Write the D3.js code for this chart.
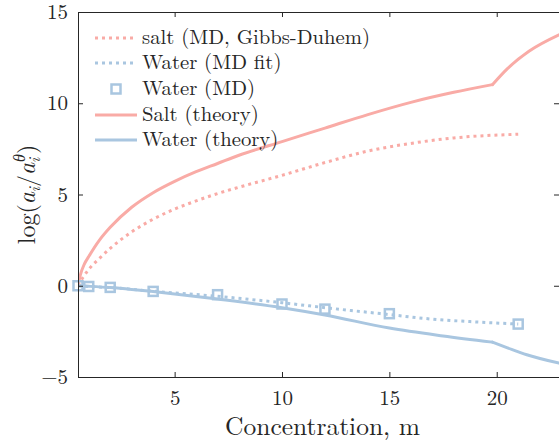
<!DOCTYPE html>
<html><head><meta charset="utf-8">
<script src="https://cdn.jsdelivr.net/npm/d3@7"></script>
<style>body{margin:0;background:#fff}svg{display:block}</style>
</head><body><svg id="c" width="559" height="444"></svg>
<script>
const saltTheoryX = [0.5,0.6,0.8,1.0,1.5,2,3,4,5,6,7,8,10,12,14,16,18,19.8,20.5,21.5,22.9];
const saltTheoryY = [0,0.55,1.2,1.6,2.5,3.2,4.3,5.1,5.72,6.25,6.7,7.15,7.9,8.64,9.38,10.05,10.6,11.02,11.9,12.85,13.75];
const saltMDX = [0.5,0.7,1,1.5,2,3,4,5,6,7,8,10,12,14,16,18,21];
const saltMDY = [0,0.4,0.9,1.5,2.05,2.95,3.65,4.2,4.65,5.05,5.4,6.05,6.75,7.38,7.8,8.1,8.3];
const waterTheoryX = [0.5,1,2,3,4,5,7,10,12,15,17.5,19.8,20.5,21.4,22.9];
const waterTheoryY = [0,-0.03,-0.1,-0.2,-0.32,-0.45,-0.73,-1.2,-1.6,-2.32,-2.75,-3.09,-3.4,-3.78,-4.24];
const waterFitX = [0.5,1,2,4,7,10,12,15,17,19,21];
const waterFitY = [0,-0.04,-0.1,-0.3,-0.58,-0.93,-1.2,-1.58,-1.83,-1.98,-2.1];
const waterMDX = [0.5,1,2,4,7,10,12,15,21];
const waterMDY = [0,-0.04,-0.09,-0.31,-0.49,-1.0,-1.28,-1.53,-2.1];
const theoryKinkX = 19.8;
const xTicks = [5,10,15,20];
const yTicks = [-5,0,5,10,15];
const legendLabels = ["salt (MD, Gibbs-Duhem)","Water (MD fit)","Water (MD)","Salt (theory)","Water (theory)"];

const FF = '"Latin Modern Roman","CMU Serif","Liberation Serif",serif';
const pink = "#f9aba6", blue = "#a9c6e0", axc = "#262626";
const L=78,R=559,T=12,B=377;
const svg = d3.select("#c");
const x = d3.scaleLinear().domain([0.5,22.9]).range([L,R]);
const y = d3.scaleLinear().domain([-5,15]).range([B,T]);

svg.append("defs").append("clipPath").attr("id","cp").append("rect").attr("x",L).attr("y",T).attr("width",R-L).attr("height",B-T);
const g = svg.append("g").attr("clip-path","url(#cp)");
const line = d3.line().x(d=>x(d[0])).y(d=>y(d[1])).curve(d3.curveMonotoneX);
const zip=(a,b)=>a.map((v,i)=>[v,b[i]]);
function kinked(pts){ return [pts.filter(p=>p[0]<=theoryKinkX), pts.filter(p=>p[0]>=theoryKinkX)]; }

kinked(zip(saltTheoryX,saltTheoryY)).forEach(seg=>
  g.append("path").attr("d",line(seg)).attr("fill","none").attr("stroke",pink).attr("stroke-width",3).attr("stroke-linejoin","round").attr("stroke-linecap","round"));
g.append("path").attr("d",line(zip(saltMDX,saltMDY))).attr("fill","none").attr("stroke",pink).attr("stroke-width",3).attr("stroke-dasharray","3,4");
kinked(zip(waterTheoryX,waterTheoryY)).forEach(seg=>
  g.append("path").attr("d",line(seg)).attr("fill","none").attr("stroke",blue).attr("stroke-width",3).attr("stroke-linecap","round"));
g.append("path").attr("d",line(zip(waterFitX,waterFitY))).attr("fill","none").attr("stroke",blue).attr("stroke-width",3).attr("stroke-dasharray","3,4");
svg.append("g").selectAll("rect.m").data(zip(waterMDX,waterMDY)).join("rect").attr("class","m")
  .attr("x",d=>x(d[0])-4.5).attr("y",d=>y(d[1])-4.5).attr("width",9).attr("height",9)
  .attr("fill","none").attr("stroke",blue).attr("stroke-width",2.5);

function styleText(s,size){ s.style("font-family",FF).style("font-size",size+"px").style("fill",axc); }

// axes
const fs=21;
svg.append("g").attr("transform",`translate(0,${B})`).call(d3.axisBottom(x).tickValues(xTicks).tickSizeInner(-5).tickSizeOuter(0).tickPadding(13))
  .call(s=>{s.select(".domain").remove();s.selectAll("line").attr("stroke",axc);s.selectAll("text").call(styleText,fs);});
svg.append("g").attr("transform",`translate(0,${T})`).call(d3.axisTop(x).tickValues(xTicks).tickSizeInner(-5).tickSizeOuter(0).tickFormat(""))
  .call(s=>{s.select(".domain").remove();s.selectAll("line").attr("stroke",axc);});
svg.append("g").attr("transform",`translate(${L},0)`).call(d3.axisLeft(y).tickValues(yTicks).tickSizeInner(-5).tickSizeOuter(0).tickPadding(10))
  .call(s=>{s.select(".domain").remove();s.selectAll("line").attr("stroke",axc);s.selectAll("text").call(styleText,fs);});
svg.append("g").attr("transform",`translate(${R},0)`).call(d3.axisRight(y).tickValues(yTicks).tickSizeInner(-5).tickSizeOuter(0).tickFormat(""))
  .call(s=>{s.select(".domain").remove();s.selectAll("line").attr("stroke",axc);});
svg.append("rect").attr("x",L+0.5).attr("y",T+0.5).attr("width",R-L).attr("height",B-T).attr("fill","none").attr("stroke",axc).attr("stroke-width",1);

function fit(sel,target){ const w=sel.node().getComputedTextLength(); const f=parseFloat(sel.style("font-size")); sel.style("font-size",(f*target/w)+"px"); return f*target/w; }

// axis labels
const xl = svg.append("text").attr("x",(L+R)/2+4).attr("y",435).attr("text-anchor","middle").call(styleText,24).text("Concentration, m");
fit(xl,195);
const yl = svg.append("text").attr("transform",`translate(35,${(T+B)/2}) rotate(-90)`).attr("text-anchor","middle").call(styleText,24);
yl.append("tspan").text("log(");
yl.append("tspan").style("font-style","italic").text("a");
yl.append("tspan").style("font-style","italic").style("font-size","16px").attr("dy",5).text("i");
yl.append("tspan").attr("dy",-5).text("/");
yl.append("tspan").style("font-style","italic").text("a");
yl.append("tspan").style("font-style","italic").style("font-size","16px").attr("dy",5).text("i");
yl.append("tspan").style("font-style","italic").style("font-size","16px").attr("dx",-4).attr("dy",-15).text("θ");
yl.append("tspan").attr("dy",10).text(")");

// legend
const rows=[38,63,89,115,140];
const lg = svg.append("g");
const styles=[{c:pink,d:"3,4",t:"line"},{c:blue,d:"3,4",t:"line"},{c:blue,t:"mark"},{c:pink,t:"line"},{c:blue,t:"line"}];
let legSize=20;
styles.forEach((s,i)=>{
  if(s.t==="line") lg.append("line").attr("x1",95).attr("x2",137).attr("y1",rows[i]).attr("y2",rows[i]).attr("stroke",s.c).attr("stroke-width",3).attr("stroke-dasharray",s.d||null);
  else lg.append("rect").attr("x",116-4.5).attr("y",rows[i]-4.5).attr("width",9).attr("height",9).attr("fill","none").attr("stroke",s.c).attr("stroke-width",2.5);
  const t = lg.append("text").attr("x",142).attr("y",rows[i]+6).call(styleText,legSize).text(legendLabels[i]);
  if(i===0) legSize = fit(t,228);
});
</script></body></html>
